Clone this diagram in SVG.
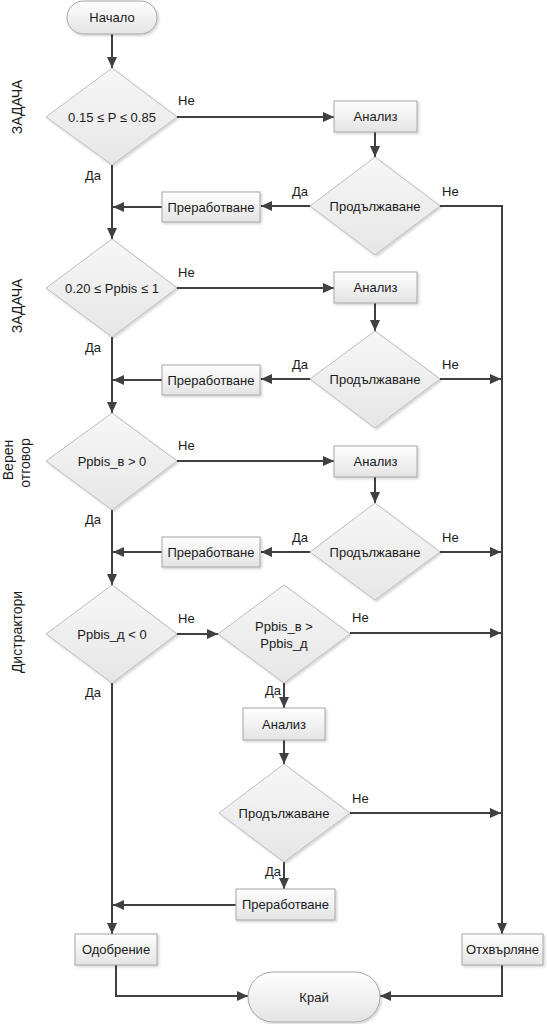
<svg xmlns="http://www.w3.org/2000/svg" width="547" height="1024" viewBox="0 0 547 1024">
<defs>
<linearGradient id="gBox" x1="0" y1="0" x2="0" y2="1"><stop offset="0" stop-color="#ffffff"/><stop offset="1" stop-color="#e4e4e4"/></linearGradient>
<linearGradient id="gDia" x1="0" y1="0" x2="0" y2="1"><stop offset="0" stop-color="#f7f7f7"/><stop offset="1" stop-color="#e6e6e6"/></linearGradient>
<filter id="sh" x="-10%" y="-10%" width="130%" height="130%"><feDropShadow dx="1.5" dy="1.5" stdDeviation="1" flood-color="#000" flood-opacity="0.18"/></filter>
<marker id="ah" markerUnits="userSpaceOnUse" markerWidth="12" markerHeight="12" refX="11" refY="6" orient="auto"><path d="M0,1 L11,6 L0,11 Z" fill="#404040"/></marker>
</defs>
<style>
.box{fill:url(#gBox);stroke:#a6a6a6;stroke-width:1;filter:url(#sh)}
.dia{fill:url(#gDia);stroke:#bdbdbd;stroke-width:1;filter:url(#sh)}
.term{fill:url(#gBox);stroke:#a6a6a6;stroke-width:1;filter:url(#sh)}
.t{font-family:"Liberation Sans",Arial,sans-serif;font-size:13px;fill:#1a1a1a;text-anchor:middle;dominant-baseline:central}
.lbl{font-family:"Liberation Sans",Arial,sans-serif;font-size:13px;fill:#1a1a1a}
.side{font-family:"Liberation Sans",Arial,sans-serif;font-size:14px;fill:#1a1a1a;text-anchor:middle;dominant-baseline:central}
.c{fill:none;stroke:#404040;stroke-width:2}
.a{marker-end:url(#ah)}
</style>

<g id="side-labels">
<text class="side" transform="translate(17,107) rotate(-90)">ЗАДАЧА</text>
<text class="side" transform="translate(17,306) rotate(-90)">ЗАДАЧА</text>
<text class="side" transform="translate(8,460) rotate(-90)">Верен</text>
<text class="side" transform="translate(25,463) rotate(-90)">отговор</text>
<text class="side" transform="translate(17,632) rotate(-90)">Дистрактори</text>
</g>

<g id="connectors">
<path class="c a" d="M112,34 V68"/>
<path class="c a" d="M177,117 H334"/>
<path class="c a" d="M375,132 V157"/>
<path class="c a" d="M310,206 H261"/>
<path class="c a" d="M162,207 H113"/>
<path class="c a" d="M112,165 V239"/>
<path class="c a" d="M440,206 H502 V934"/>

<path class="c a" d="M177,288 H334"/>
<path class="c a" d="M375,303 V331"/>
<path class="c a" d="M310,379 H261"/>
<path class="c a" d="M162,380 H113"/>
<path class="c a" d="M112,337 V413"/>
<path class="c a" d="M440,379 H501"/>

<path class="c a" d="M177,461 H334"/>
<path class="c a" d="M375,477 V503"/>
<path class="c a" d="M310,552 H261"/>
<path class="c a" d="M162,552 H113"/>
<path class="c a" d="M112,510 V585"/>
<path class="c a" d="M440,552 H501"/>

<path class="c a" d="M177,634 H218"/>
<path class="c a" d="M350,633 H501"/>
<path class="c a" d="M284,683 V708"/>
<path class="c a" d="M284,740 V764"/>
<path class="c a" d="M350,813 H501"/>
<path class="c a" d="M284,862 V889"/>
<path class="c a" d="M236,905 H113"/>
<path class="c a" d="M112,683 V934"/>

<path class="c a" d="M116,965 V996 H248"/>
<path class="c a" d="M502,965 V996 H380"/>

<text class="lbl" x="178" y="105">Не</text>
<text class="lbl" x="85" y="180">Да</text>
<text class="lbl" x="292" y="196">Да</text>
<text class="lbl" x="442" y="196">Не</text>

<text class="lbl" x="178" y="277">Не</text>
<text class="lbl" x="85" y="352">Да</text>
<text class="lbl" x="292" y="369">Да</text>
<text class="lbl" x="442" y="369">Не</text>

<text class="lbl" x="178" y="450">Не</text>
<text class="lbl" x="85" y="524">Да</text>
<text class="lbl" x="292" y="542">Да</text>
<text class="lbl" x="442" y="542">Не</text>

<text class="lbl" x="178" y="623">Не</text>
<text class="lbl" x="85" y="697">Да</text>
<text class="lbl" x="352" y="622">Не</text>
<text class="lbl" x="265" y="695">Да</text>
<text class="lbl" x="352" y="803">Не</text>
<text class="lbl" x="265" y="876">Да</text>
</g>

<g id="start"><rect class="term" x="67" y="1" width="90" height="33" rx="16.5"/><text class="t" x="112" y="17.5">Начало</text></g>

<g id="d1"><polygon class="dia" points="112,68 177,117 112,165 46,117"/><text class="t" x="112" y="117">0.15 ≤ P ≤ 0.85</text></g>
<g id="a1"><rect class="box" x="334" y="101" width="83" height="31"/><text class="t" x="375.5" y="116.5">Анализ</text></g>
<g id="p1"><polygon class="dia" points="375,157 440,206 375,255 310,206"/><text class="t" x="375" y="206">Продължаване</text></g>
<g id="r1"><rect class="box" x="162" y="192" width="98" height="30"/><text class="t" x="211" y="207">Преработване</text></g>

<g id="d2"><polygon class="dia" points="112,239 177,288 112,337 46,288"/><text class="t" x="112" y="288">0.20 ≤ Ppbis ≤ 1</text></g>
<g id="a2"><rect class="box" x="334" y="272" width="83" height="31"/><text class="t" x="375.5" y="287.5">Анализ</text></g>
<g id="p2"><polygon class="dia" points="375,331 440,379 375,428 310,379"/><text class="t" x="375" y="379">Продължаване</text></g>
<g id="r2"><rect class="box" x="162" y="365" width="98" height="30"/><text class="t" x="211" y="380">Преработване</text></g>

<g id="d3"><polygon class="dia" points="112,413 177,461 112,510 46,461"/><text class="t" x="112" y="461">Ppbis_в &gt; 0</text></g>
<g id="a3"><rect class="box" x="334" y="446" width="83" height="31"/><text class="t" x="375.5" y="461.5">Анализ</text></g>
<g id="p3"><polygon class="dia" points="375,503 440,552 375,600 310,552"/><text class="t" x="375" y="552">Продължаване</text></g>
<g id="r3"><rect class="box" x="162" y="537" width="98" height="30"/><text class="t" x="211" y="552">Преработване</text></g>

<g id="d4"><polygon class="dia" points="112,585 177,634 112,683 46,634"/><text class="t" x="112" y="634">Ppbis_д &lt; 0</text></g>
<g id="d5"><polygon class="dia" points="284,585 350,634 284,683 218,634"/><text class="t" x="284" y="626">Ppbis_в  &gt;</text><text class="t" x="284" y="643">Ppbis_д</text></g>
<g id="a4"><rect class="box" x="243" y="708" width="82" height="32"/><text class="t" x="284" y="724">Анализ</text></g>
<g id="p4"><polygon class="dia" points="284,764 350,813 284,862 219,813"/><text class="t" x="284" y="813">Продължаване</text></g>
<g id="r4"><rect class="box" x="236" y="889" width="99" height="31"/><text class="t" x="285.5" y="904.5">Преработване</text></g>

<g id="approve"><rect class="box" x="75" y="934" width="82" height="31"/><text class="t" x="116" y="949.5">Одобрение</text></g>
<g id="reject"><rect class="box" x="462" y="934" width="81" height="31"/><text class="t" x="502.5" y="949.5">Отхвърляне</text></g>
<g id="end"><rect class="term" x="248" y="972" width="132" height="50" rx="25"/><text class="t" x="314" y="997">Край</text></g>
</svg>
